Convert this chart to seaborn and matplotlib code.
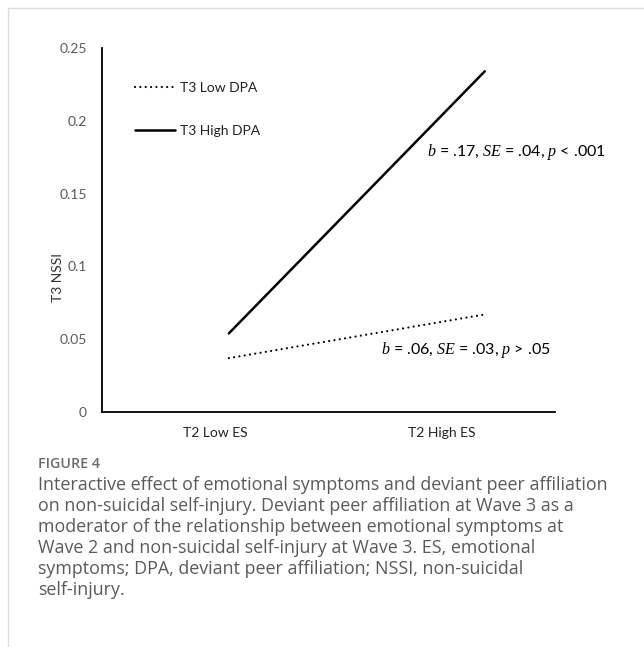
import numpy as np
import pandas as pd
import seaborn as sns
import matplotlib.pyplot as plt
from matplotlib.lines import Line2D

# данные
es_levels = ["T2 Low ES", "T2 High ES"]
es_x = [0.56, 1.69]                 # положение концов линий по оси X
nssi_low_dpa = [0.037, 0.067]
nssi_high_dpa = [0.054, 0.234]
dpa_groups = ["T3 Low DPA", "T3 High DPA"]
y_ticks = [0, 0.05, 0.1, 0.15, 0.2, 0.25]
y_tick_labels = ["0", "0.05", "0.1", "0.15", "0.2", "0.25"]
note_high = r"$b$ = .17, $SE$ = .04, $p$ < .001"
note_low = r"$b$ = .06, $SE$ = .03, $p$ > .05"

df = pd.DataFrame({
    "x": es_x * 2,
    "nssi": nssi_low_dpa + nssi_high_dpa,
    "dpa": [dpa_groups[0]] * 2 + [dpa_groups[1]] * 2,
})

sns.set_theme(style="white")
plt.rcParams["font.family"] = ["Lato", "DejaVu Sans"]
plt.rcParams["mathtext.fontset"] = "custom"
plt.rcParams["mathtext.rm"] = "Liberation Serif"
plt.rcParams["mathtext.it"] = "Liberation Serif:italic"

dots = (0, (0.01, 2.4))   # круглые точки

fig = plt.figure(figsize=(6.44, 6.47), dpi=100)
ax = fig.add_axes([0.1584, 0.3632, 0.7034, 0.5626])

sns.lineplot(data=df[df.dpa == dpa_groups[0]], x="x", y="nssi", ax=ax,
             color="black", lw=1.6, linestyle=dots,
             dash_capstyle="round", legend=False)
sns.lineplot(data=df[df.dpa == dpa_groups[1]], x="x", y="nssi", ax=ax,
             color="black", lw=1.8, legend=False)

ax.set_xlim(0, 2)
ax.set_ylim(0, 0.25)
ax.set_yticks(y_ticks)
ax.set_yticklabels(y_tick_labels)
ax.set_xticks([1, 2])
ax.set_xticklabels([])
ax.set_xticks([0.5, 1.5], minor=True)
ax.set_xticklabels(es_levels, minor=True)
ax.tick_params(axis="x", which="minor", length=0, pad=11, labelsize=10, labelcolor="#222222")
ax.tick_params(axis="x", which="major", length=4, width=1, direction="in", color="black")
ax.tick_params(axis="y", length=4, width=1, direction="in", color="black",
               labelsize=10, labelcolor="#595959", pad=11)
ax.set_xlabel("")
ax.set_ylabel("T3 NSSI", fontsize=10, color="#333333")
ax.yaxis.set_label_coords(-0.085, 0.37)
for side in ["top", "right"]:
    ax.spines[side].set_visible(False)
for side in ["left", "bottom"]:
    ax.spines[side].set_color("black")
    ax.spines[side].set_linewidth(1.3)

handles = [Line2D([], [], color="black", lw=1.6, linestyle=dots, dash_capstyle="round"),
           Line2D([], [], color="black", lw=1.8)]
ax.legend(handles, dpa_groups, loc="upper left", bbox_to_anchor=(0.045, 0.94),
          frameon=False, fontsize=10, handlelength=2.9, handletextpad=0.35,
          labelspacing=2.2, labelcolor="#222222")

ax.text(1.435, 0.1786, note_high, fontsize=11.5, color="black", va="center")
ax.text(1.232, 0.0426, note_low, fontsize=11.5, color="black", va="center")

# рамка страницы и подпись
fig.add_artist(Line2D([8 / 644, 1], [1 - 8 / 647, 1 - 8 / 647], color="#dddddd", lw=1))
fig.add_artist(Line2D([8 / 644, 8 / 644], [0, 1 - 8 / 647], color="#dddddd", lw=1))
fig.text(38 / 644, 1 - 464 / 647, "FIGURE 4", fontsize=10.3, color="#6b6b6b",
         family=["Open Sans", "DejaVu Sans"], weight="semibold", va="center")
caption = ("Interactive effect of emotional symptoms and deviant peer affiliation\n"
           "on non-suicidal self-injury. Deviant peer affiliation at Wave 3 as a\n"
           "moderator of the relationship between emotional symptoms at\n"
           "Wave 2 and non-suicidal self-injury at Wave 3. ES, emotional\n"
           "symptoms; DPA, deviant peer affiliation; NSSI, non-suicidal\n"
           "self-injury.")
fig.text(38 / 644, 1 - 476 / 647, caption, fontsize=12.9, color="#5a5a5a",
         family=["Open Sans", "DejaVu Sans"], va="top", linespacing=1.22)

fig.savefig("out.png", dpi=100)
